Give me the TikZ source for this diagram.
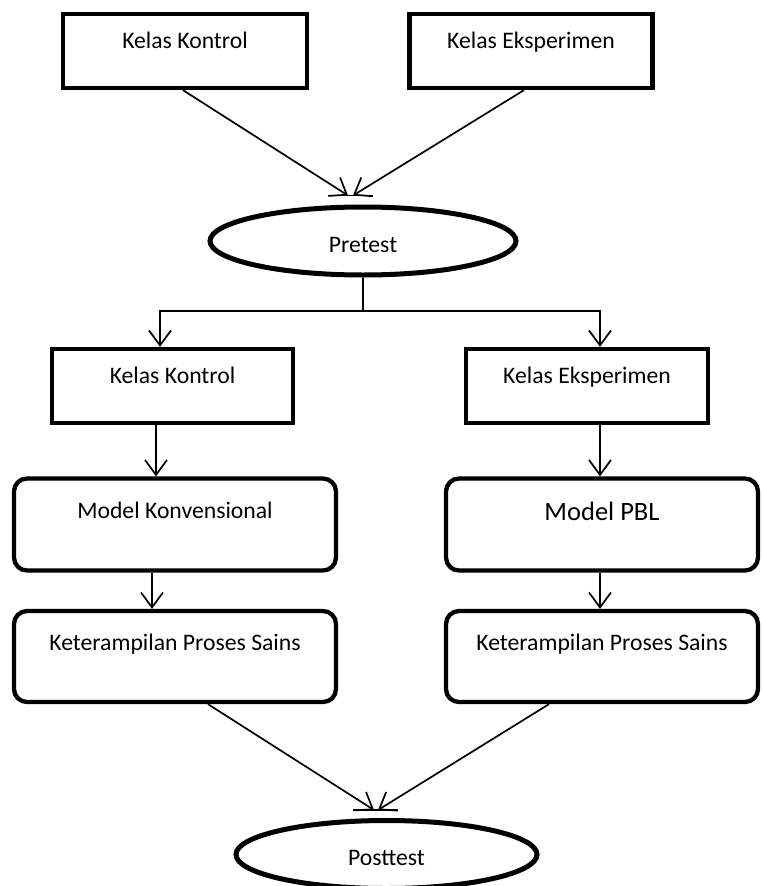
\documentclass[tikz,border=0pt]{standalone}
\usepackage{fontspec}
\setmainfont{Carlito}
\usepackage{tikz}
\usetikzlibrary{arrows.meta, shapes.geometric}
\usetikzlibrary{calc}

\tikzset{
    kotak/.style={draw, line width=4.3pt, inner xsep=0pt, inner ysep=0pt,
        text height=34.3pt, text depth=39.7pt, font=\fontsize{23.7}{28}\selectfont},
    bulat/.style={kotak, rounded corners=13pt, text height=40pt, text depth=52pt},
    lonjong/.style={draw, ellipse, line width=5pt, inner sep=0pt,
        minimum width=306pt, minimum height=68pt, text height=22pt, text depth=0pt,
        font=\fontsize{23.7}{28}\selectfont},
    panah/.style={line width=1.7pt, -{Straight Barb[length=15pt, width=22pt, line width=1.7pt]}},
    garis/.style={line width=1.7pt}
}

\begin{document}
\begin{tikzpicture}[x=1pt, y=-1pt]
        \useasboundingbox (0, 0) rectangle (761, 886);

        \node[kotak, minimum width=244pt] (kk1) at (185, 51) {Kelas Kontrol};
        \node[kotak, minimum width=243pt] (ke1) at (531, 51) {Kelas Eksperimen};
        \node[lonjong] (pre) at (363, 241) {Pretest};

        \node[kotak, minimum width=241pt] (kk2) at (172.5, 386) {Kelas Kontrol};
        \node[kotak, minimum width=242pt] (ke2) at (587, 386) {Kelas Eksperimen};

        \node[bulat, minimum width=322pt] (mk) at (175, 524.5) {Model Konvensional};
        \node[bulat, minimum width=312pt, text height=41.5pt, text depth=50.5pt,
            font=\fontsize{26.5}{31}\selectfont] (mp) at (602, 524.5) {Model PBL};

        \node[bulat, minimum width=322pt, text height=39pt, text depth=52pt] (kps1) at (175, 656.5) {Keterampilan Proses Sains};
        \node[bulat, minimum width=312pt, text height=39pt, text depth=52pt] (kps2) at (602, 656.5) {Keterampilan Proses Sains};

        \node[lonjong, minimum width=301pt] (post) at (386.5, 854.5) {Posttest};

        % kelas ke pretest
        \draw[panah] ([xshift=-2pt]kk1.south) -- ([xshift=-15pt, yshift=9pt]pre.north);
        \draw[panah] ([xshift=-7pt]ke1.south) -- ([xshift=-10pt, yshift=9pt]pre.north);
        \draw[garis] ([xshift=-32pt, yshift=9pt]pre.north) -- ([xshift=10pt, yshift=9pt]pre.north);

        % cabang pretest
        \coordinate (cab) at (363, 311);
        \coordinate (cabL) at (160, 311);
        \coordinate (cabR) at (600, 311);
        \draw[garis] (pre.south) -- (cab);
        \draw[panah] (cab) -- (cabL) -- (cabL |- kk2.north);
        \draw[panah] (cab) -- (cabR) -- (cabR |- ke2.north);

        \draw[panah] ([xshift=-16.5pt]kk2.south) -- ([xshift=-16.5pt]kk2.south |- mk.north);
        \draw[panah] ([xshift=13pt]ke2.south) -- ([xshift=13pt]ke2.south |- mp.north);
        \draw[panah] ([xshift=-23pt]mk.south) -- ([xshift=-23pt]mk.south |- kps1.north);
        \draw[panah] ([xshift=-2pt]mp.south) -- ([xshift=-2pt]mp.south |- kps2.north);

        % ke posttest
        \draw[panah] ([xshift=33pt]kps1.south) -- ([xshift=-12.5pt, yshift=8pt]post.north);
        \draw[panah] ([xshift=-53pt]kps2.south) -- ([xshift=-8.5pt, yshift=8pt]post.north);
        \draw[garis] ([xshift=-33.5pt, yshift=8pt]post.north) -- ([xshift=11.5pt, yshift=8pt]post.north);

    \end{tikzpicture}
\end{document}
